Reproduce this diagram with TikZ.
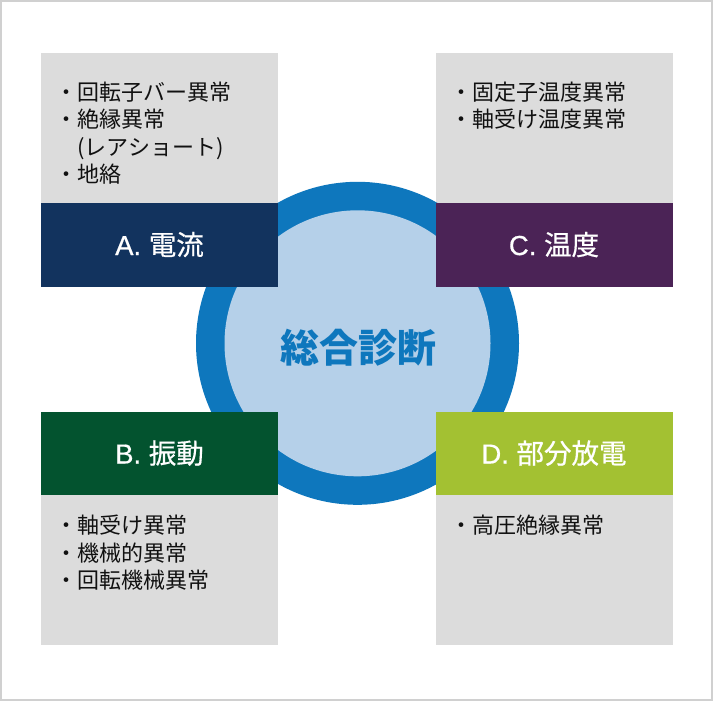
\documentclass[tikz,border=0pt]{standalone}
\usepackage{fontspec}
\newfontfamily\jp{Noto Sans CJK JP}
\newfontfamily\jpt[FakeBold=0.6]{Noto Sans CJK JP}
\newfontfamily\latt[FakeBold=0.6]{Liberation Sans}
\definecolor{navyband}{HTML}{12335E}
\definecolor{purpleband}{HTML}{4B2356}
\definecolor{greenband}{HTML}{03532F}
\definecolor{limeband}{HTML}{A3C132}
\definecolor{boxgray}{HTML}{DCDCDC}
\definecolor{ringblue}{HTML}{0E77BD}
\definecolor{innerblue}{HTML}{B5D0E9}
\definecolor{framegray}{HTML}{D0D0D0}
\definecolor{bullettext}{HTML}{111111}
\tikzset{
  bullettxt/.style={anchor=base west, inner sep=0pt, outer sep=0pt, text=bullettext, font=\jp\fontsize{22}{26}\selectfont},
  titletxt/.style={anchor=base, inner sep=0pt, outer sep=0pt, text=white, font=\jpt\fontsize{27.5}{30}\selectfont},
  centertxt/.style={anchor=base, inner sep=0pt, outer sep=0pt, text=ringblue, font=\jp\bfseries\fontsize{39}{42}\selectfont},
}
\begin{document}
\begin{tikzpicture}[x=1pt,y=-1pt]
\useasboundingbox (0,0) rectangle (714,702);
\fill[white] (0,0) rectangle (714,702);
\draw[framegray, line width=1.5pt] (1,1) rectangle (712,700);
% gray boxes
\fill[boxgray] (41,53) rectangle (278,203);
\fill[boxgray] (435.5,53) rectangle (672.5,203);
\fill[boxgray] (41,495) rectangle (278,644.5);
\fill[boxgray] (435.5,495) rectangle (672.5,644.5);
% circle
\fill[ringblue] (357.5,343.3) circle[radius=161.5];
\fill[innerblue] (357.5,343.3) circle[radius=133];
% bands
\fill[navyband] (41,203) rectangle (278,287);
\fill[purpleband] (435.5,203) rectangle (672.5,287);
\fill[greenband] (41,412) rectangle (278,495);
\fill[limeband] (435.5,412) rectangle (672.5,495);
% titles
\node[titletxt] (tA) at (159.5,255) {{\latt A. }電流};
\node[titletxt] (tC) at (554,255) {{\latt C. }温度};
\node[titletxt] (tB) at (159.5,463.5) {{\latt B. }振動};
\node[titletxt] (tD) at (554,463.5) {{\latt D. }部分放電};
\node[centertxt] (center) at (358,362) {総合診断};
% bullets A
\node[bullettxt] (a1) at (55.5,100.4) {・回転子バー異常};
\node[bullettxt] (a2) at (55.5,127.8) {・絶縁異常};
\node[bullettxt] (a3) at (77.5,155.2) {(レアショート)};
\node[bullettxt] (a4) at (55.5,182.6) {・地絡};
% bullets C
\node[bullettxt] (c1) at (450,100.4) {・固定子温度異常};
\node[bullettxt] (c2) at (450,127.8) {・軸受け温度異常};
% bullets B
\node[bullettxt] (b1) at (55.5,533.7) {・軸受け異常};
\node[bullettxt] (b2) at (55.5,561.1) {・機械的異常};
\node[bullettxt] (b3) at (55.5,588.5) {・回転機械異常};
% bullets D
\node[bullettxt] (d1) at (450,533.7) {・高圧絶縁異常};
\end{tikzpicture}
\end{document}
